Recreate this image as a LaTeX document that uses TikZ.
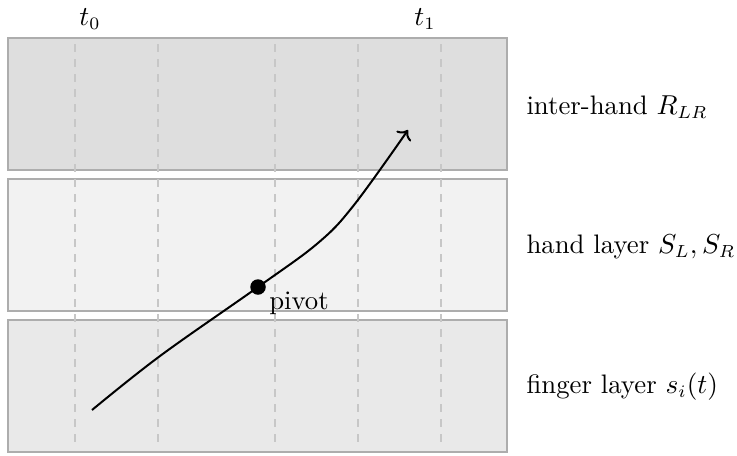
\documentclass[tikz,border=0pt]{standalone}
\usetikzlibrary{arrows.meta}
\begin{document}
\begin{tikzpicture}[x=0.4pt,y=-0.4pt,
  every node/.style={font=\fontsize{10.7}{13}\selectfont},
  layer/.style={draw=black!32, line width=0.5pt},
  grid/.style={draw=black!22, dashed, line width=0.5pt},
  lbl/.style={anchor=west, inner sep=0pt},
  tlbl/.style={inner sep=0pt}]
\useasboundingbox (0,0) rectangle (737,455);
\fill[white] (0,0) rectangle (737,455);
% layers
\path[layer, fill=black!13] (8,38) rectangle (507,170);
\path[layer, fill=black!5] (8,179) rectangle (507,311);
\path[layer, fill=black!8.5] (8,320) rectangle (507,452);
% dashed time lines
\foreach \x in {75,158,275,358,441}
  \draw[grid] (\x,44) -- (\x,446);
% time labels
\node[tlbl] (t0) at (90,19) {$t_0$};
\node[tlbl] (t1) at (425,19) {$t_1$};
% layer labels
\node[lbl] (lr) at (526,107) {inter-hand $R_{LR}$};
\node[lbl] (lh) at (526,247) {hand layer $S_L, S_R$};
\node[lbl] (lf) at (526,387) {finger layer $s_i(t)$};
% trajectory
\coordinate (start) at (92,410);
\coordinate (end) at (408,130);
\node[circle, fill=black, minimum size=6.2pt, inner sep=0pt] (pivot) at (258,287) {};
\node[tlbl] (pl) at (299,303) {pivot};
\draw[line width=0.8pt, ->] plot[smooth, tension=0.6] coordinates {(92,410) (160,356) (258,287) (318,243) (354,205) (408,130)};
\end{tikzpicture}
\end{document}
